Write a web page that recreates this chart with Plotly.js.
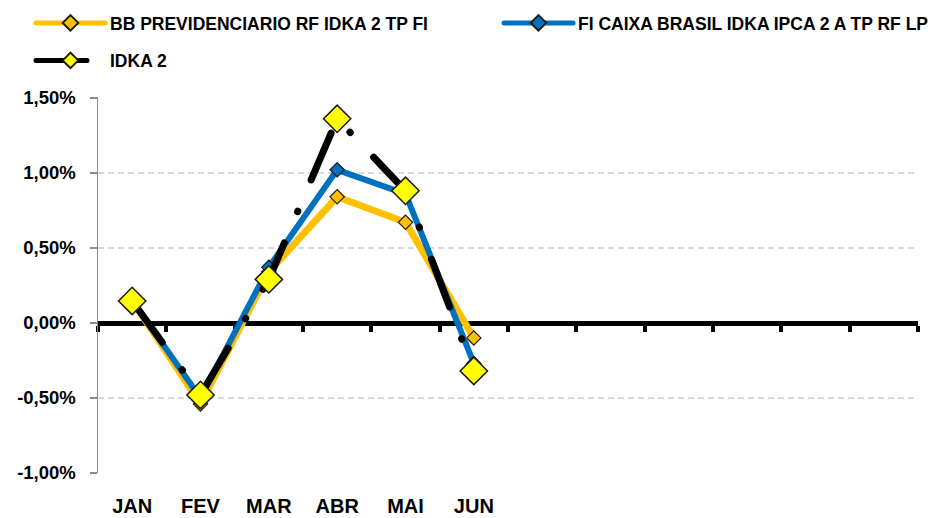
<!DOCTYPE html>
<html>
<head>
<meta charset="utf-8">
<script src="https://cdn.plot.ly/plotly-3.0.1.min.js"></script>
<style>
html,body{margin:0;padding:0;background:#fff;}
#chart .js-line{stroke-linecap:round;}
#chart .legend .js-line{stroke-dasharray:none !important;}
</style>
</head>
<body>
<div id="chart" style="width:930px;height:518px;"></div>
<script>
const months = ['JAN','FEV','MAR','ABR','MAI','JUN','JUL','AGO','SET','OUT','NOV','DEZ'];
const shownMonths = ['JAN','FEV','MAR','ABR','MAI','JUN'];
const bbValues = [0.15, -0.54, 0.34, 0.84, 0.67, -0.10];
const caixaValues = [0.15, -0.50, 0.37, 1.02, 0.86, -0.27];
const idkaValues = [0.146, -0.48, 0.29, 1.36, 0.88, -0.32];
const seriesNames = ['BB PREVIDENCIARIO RF IDKA 2 TP FI', 'FI CAIXA BRASIL IDKA IPCA 2 A TP RF LP', 'IDKA 2'];
const yTickVals = [-1, -0.5, 0, 0.5, 1, 1.5];
const yTickText = ['-1,00%', '-0,50%', '0,00%', '0,50%', '1,00%', '1,50%'];
const yRange = [-1, 1.505];

const FONT = '"Liberation Sans", Arial, sans-serif';
const zeroPos = (0 - yRange[0]) / (yRange[1] - yRange[0]);

const traces = [
  {
    x: shownMonths, y: bbValues, name: seriesNames[0], type: 'scatter', mode: 'lines+markers',
    line: {color: '#FFC000', width: 7},
    marker: {symbol: 'diamond', size: 11, color: '#FFC000', line: {color: '#1a1a1a', width: 1.2}},
    legend: 'legend'
  },
  {
    x: shownMonths, y: caixaValues, name: seriesNames[1], type: 'scatter', mode: 'lines+markers',
    line: {color: '#0070C0', width: 6},
    marker: {symbol: 'diamond', size: 11, color: '#0070C0', line: {color: '#1a1a1a', width: 1.2}},
    legend: 'legend2'
  },
  {
    x: shownMonths, y: idkaValues, name: seriesNames[2], type: 'scatter', mode: 'lines+markers',
    xaxis: 'x2',
    line: {color: '#000000', width: 7, dash: '51px,34px,0.5px,34px'},
    marker: {symbol: 'diamond', size: 21, color: '#FFFF00', line: {color: '#1a1a1a', width: 1.5}},
    legend: 'legend3'
  }
];

const legendFont = {family: FONT, size: 17.5, color: '#000', weight: 'bold'};
function mkLegend(xpx, ytop) {
  return {
    orientation: 'h', xref: 'container', yref: 'container',
    x: xpx / 930, y: 1 - ytop / 518, xanchor: 'left', yanchor: 'top',
    itemwidth: 69, itemsizing: 'constant', font: legendFont,
    bgcolor: 'rgba(0,0,0,0)', borderwidth: 0
  };
}

const layout = {
  width: 930, height: 518,
  margin: {l: 98, r: 12, t: 97, b: 45},
  paper_bgcolor: '#ffffff', plot_bgcolor: '#ffffff',
  font: {family: FONT, color: '#000000'},
  showlegend: true,
  xaxis: {
    type: 'category', categoryorder: 'array', categoryarray: months,
    range: [-0.5, 11.5], tickvals: shownMonths, ticktext: shownMonths,
    ticks: 'outside', ticklen: 15, tickcolor: 'rgba(0,0,0,0)',
    showline: false, showgrid: false, zeroline: false,
    tickfont: {family: FONT, size: 20, color: '#000', weight: 'bold'}
  },
  xaxis2: {
    overlaying: 'x', anchor: 'free', position: zeroPos,
    type: 'category', categoryorder: 'array', categoryarray: months,
    range: [-0.5, 11.5], tickvals: months, tickson: 'boundaries',
    showticklabels: false,
    ticks: 'outside', ticklen: 6, tickwidth: 4, tickcolor: '#000',
    showline: true, linecolor: '#000', linewidth: 5,
    showgrid: false, zeroline: false, layer: 'below traces'
  },
  yaxis: {
    range: yRange, tickvals: yTickVals, ticktext: yTickText,
    showline: true, linecolor: '#8c8c8c', linewidth: 1.5,
    ticks: 'outside', ticklen: 7, tickcolor: '#8c8c8c', tickwidth: 1.5,
    showgrid: true, gridcolor: '#D9D9D9', gridwidth: 1.5, griddash: '6px,4px',
    zeroline: false, ticklabelstandoff: 10,
    tickfont: {family: FONT, size: 18.5, color: '#000', weight: 'bold'}
  },
  legend: mkLegend(31, 5),
  legend2: mkLegend(499, 5),
  legend3: mkLegend(31, 42.5)
};

Plotly.newPlot('chart', traces, layout, {displayModeBar: false, staticPlot: true});
</script>
</body>
</html>
